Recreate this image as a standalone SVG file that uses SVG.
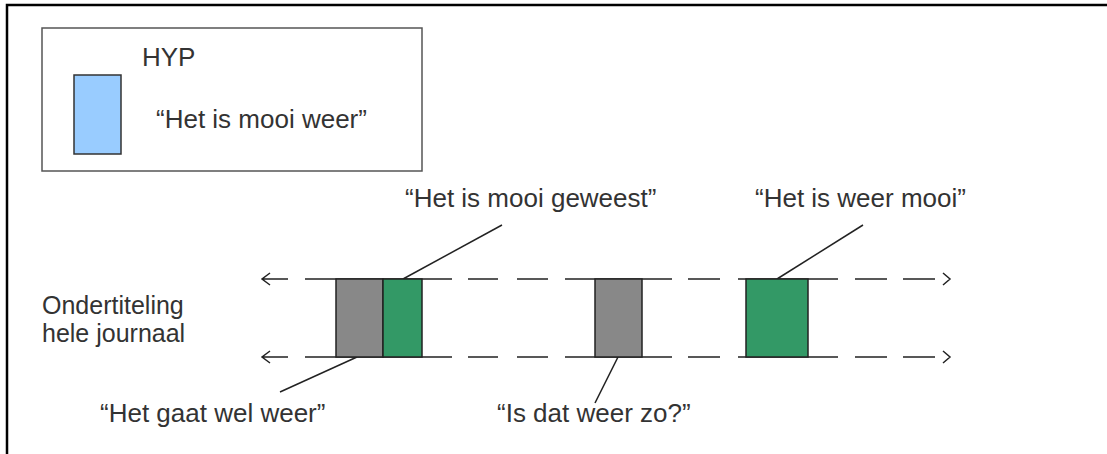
<svg xmlns="http://www.w3.org/2000/svg" width="1107" height="454" viewBox="0 0 1107 454">
<style>
text{font-family:"Liberation Sans",Arial,sans-serif;font-size:26px;fill:#333}
.small{font-size:25px}
.frame{stroke:#000;stroke-width:2.5;fill:none}
.box{stroke:#555;stroke-width:1.5;fill:#fff}
.blk{stroke:#222;stroke-width:1.5}
.seg{stroke:#222;stroke-width:1.5;fill:none}
.gray{fill:#888;stroke:#222;stroke-width:1.5}
.green{fill:#339966;stroke:#222;stroke-width:1.5}
.blue{fill:#99CCFF;stroke:#333;stroke-width:1.5}
</style>
<rect width="1107" height="454" fill="#fff"/>
<path class="frame" d="M7,454 V5 H1107"/>
<g id="legend">
<rect class="box" x="42" y="28" width="380" height="143"/>
<rect class="blue" x="74" y="75" width="47" height="79"/>
<text x="142" y="66">HYP</text>
<text x="156" y="128">“Het is mooi weer”</text>
</g>
<g id="label-left">
<text class="small" x="42" y="314">Ondertiteling</text>
<text class="small" x="42" y="342">hele journaal</text>
</g>
<g id="connectors">
<g id="timeline-top">
<path class="seg" d="M262,279 H288 M270,273 L262,279 L270,285 M305,279 H452 M468,279 H498 M517,279 H548 M565,279 H672 M688,279 H720 M738,279 H838 M855,279 H887 M903,279 H935 M943,273 L950,279 L943,285"/>
</g>
<g id="timeline-bottom">
<path class="seg" d="M262,357 H288 M270,351 L262,357 L270,363 M305,357 H452 M468,357 H498 M517,357 H548 M565,357 H672 M688,357 H720 M738,357 H838 M855,357 H887 M903,357 H935 M943,351 L950,357 L943,363"/>
</g>
<line class="blk" x1="403" y1="279" x2="502" y2="225"/>
<line class="blk" x1="777" y1="279" x2="863" y2="225"/>
<line class="blk" x1="357" y1="357" x2="280" y2="392"/>
<line class="blk" x1="618" y1="357" x2="595" y2="403"/>
</g>
<g id="block-1-gray"><rect class="gray" x="336" y="279" width="47" height="78"/></g>
<g id="block-1-green"><rect class="green" x="383" y="279" width="39" height="78"/></g>
<g id="block-2-gray"><rect class="gray" x="595" y="279" width="47" height="78"/></g>
<g id="block-3-green"><rect class="green" x="746" y="279" width="62" height="78"/></g>
<g id="label-geweest"><text x="405" y="207">“Het is mooi geweest”</text></g>
<g id="label-weer-mooi"><text x="755" y="207">“Het is weer mooi”</text></g>
<g id="label-gaat"><text x="100" y="422">“Het gaat wel weer”</text></g>
<g id="label-zo"><text x="497" y="422">“Is dat weer zo?”</text></g>
</svg>
